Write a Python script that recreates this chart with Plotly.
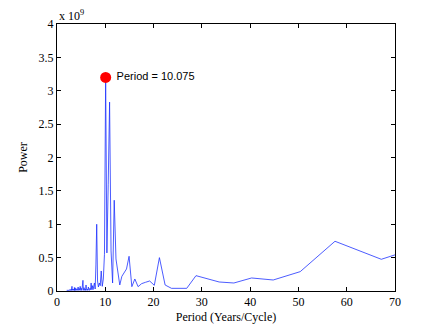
import plotly.graph_objects as go

# periodogram: harmonic index k, period = N / k years
N = 403
harmonic = list(range(1, 202))

# power (x 1e9) per harmonic
power_1_40 = [0.25, 0.45, 0.60, 0.70, 0.79, 0.475, 0.745, 0.29, 0.165, 0.195,
              0.12, 0.135, 0.18, 0.23, 0.04, 0.04, 0.04, 0.09, 0.50, 0.085,
              0.15, 0.13, 0.11, 0.065, 0.18, 0.065, 0.52, 0.33, 0.27, 0.22,
              0.09, 0.28, 0.48, 1.36, 0.12, 0.60, 2.83, 1.60, 0.57, 3.20]
power_41_70 = [0.55, 0.18, 0.07, 0.30, 0.08, 0.12, 0.06, 0.15, 1.00, 0.39,
               0.03, 0.12, 0.05, 0.02, 0.08, 0.02, 0.12, 0.02, 0.04, 0.01,
               0.02, 0.06, 0.01, 0.03, 0.01, 0.02, 0.09, 0.01, 0.03, 0.01]
power_71_201 = [0.02, 0.05, 0.01, 0.03, 0.16, 0.02, 0.06, 0.01, 0.02, 0.04,
                0.01, 0.02, 0.05, 0.07, 0.01, 0.03, 0.01, 0.04, 0.02, 0.01,
                0.03, 0.06, 0.01, 0.02, 0.04, 0.01, 0.01, 0.03, 0.02, 0.01,
                0.02, 0.01, 0.04, 0.01, 0.01, 0.03, 0.01, 0.02, 0.05, 0.01,
                0.02, 0.05, 0.01, 0.03, 0.01, 0.01, 0.02, 0.01, 0.03, 0.01,
                0.01, 0.02, 0.01, 0.01, 0.03, 0.01, 0.02, 0.01, 0.04, 0.07,
                0.01, 0.02, 0.01, 0.01, 0.02, 0.01, 0.01, 0.03, 0.01, 0.01,
                0.01, 0.02, 0.01, 0.01, 0.01, 0.02, 0.01, 0.01, 0.02, 0.01,
                0.01, 0.01, 0.02, 0.01, 0.01, 0.01, 0.02, 0.01, 0.01, 0.01,
                0.02, 0.01, 0.01, 0.01, 0.01, 0.02, 0.01, 0.01, 0.01, 0.01,
                0.01, 0.02, 0.01, 0.01, 0.01, 0.01, 0.01, 0.02, 0.01, 0.01,
                0.01, 0.01, 0.01, 0.01, 0.02, 0.01, 0.01, 0.01, 0.01, 0.01,
                0.01, 0.01, 0.01, 0.01, 0.01, 0.01, 0.01, 0.01, 0.01, 0.01, 0.01]
power = power_1_40 + power_41_70 + power_71_201
period = [N / k for k in harmonic]

peak_period = 10.075
peak_power = 3.2

x_ticks = [0, 10, 20, 30, 40, 50, 60, 70]
y_ticks = [0, 0.5, 1, 1.5, 2, 2.5, 3, 3.5, 4]
y_labels = ['0', '0.5', '1', '1.5', '2', '2.5', '3', '3.5', '4']

serif = 'Liberation Serif, Times New Roman, serif'

fig = go.Figure()
fig.add_trace(go.Scatter(x=period, y=power, mode='lines',
                         line=dict(color='rgb(30,50,255)', width=0.8),
                         showlegend=False))
fig.add_trace(go.Scatter(x=[peak_period], y=[peak_power], mode='markers+text',
                         marker=dict(color='red', size=11),
                         text=[' Period = ' + str(peak_period)],
                         textposition='middle right',
                         textfont=dict(family='Liberation Sans, Arial', size=11, color='black'),
                         showlegend=False))

axis_style = dict(showline=True, linecolor='black', linewidth=1, mirror='ticks',
                  ticks='inside', ticklen=4, tickcolor='black', showgrid=False,
                  zeroline=False, automargin=False,
                  tickfont=dict(family=serif, size=12, color='black'))
fig.update_xaxes(range=[0, 70], tickvals=x_ticks, title=dict(text='Period (Years/Cycle)', standoff=4,
                 font=dict(family=serif, size=12, color='black')), **axis_style)
fig.update_yaxes(range=[0, 4], tickvals=y_ticks, ticktext=y_labels,
                 title=dict(text='Power', standoff=8, font=dict(family=serif, size=12, color='black')),
                 **axis_style)

fig.add_annotation(text='x 10<sup>9</sup>', xref='paper', yref='paper', x=0, y=1.0,
                   xanchor='left', yanchor='bottom', showarrow=False, yshift=-1,
                   font=dict(family=serif, size=12, color='black'))

# page body adds an 8px offset, so the figure is 8px smaller and the top/left margins shifted
fig.update_layout(width=428, height=320, margin=dict(l=49, r=41, t=16, b=37),
                  plot_bgcolor='white', paper_bgcolor='white')

fig.write_html("out.html")
